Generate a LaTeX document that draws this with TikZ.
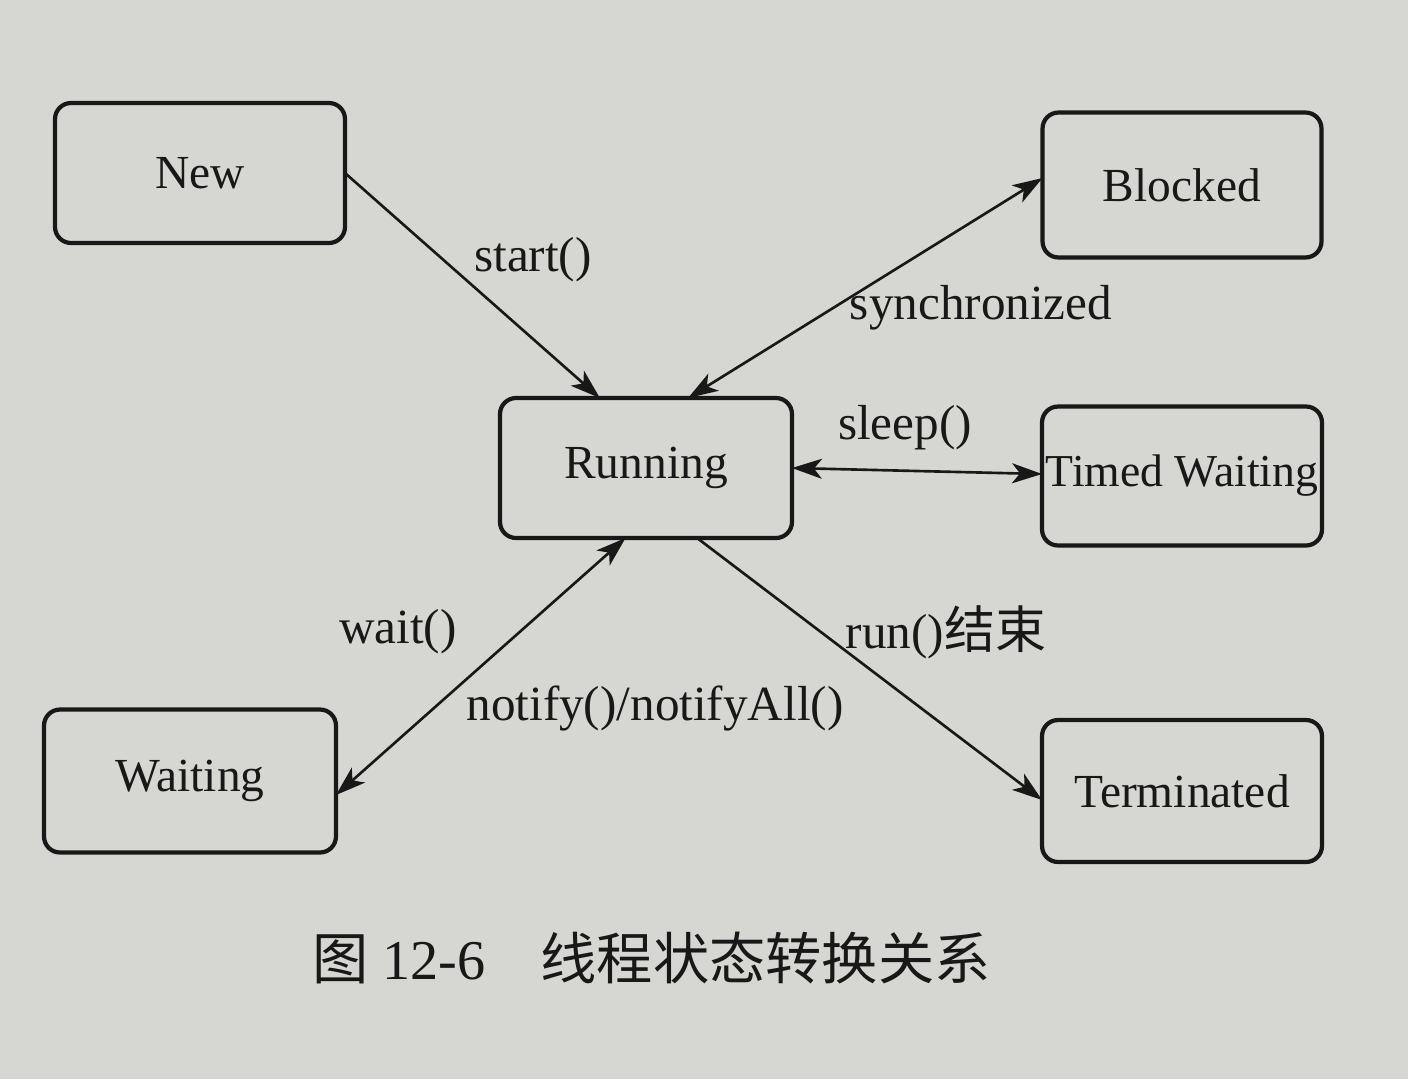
\documentclass[tikz,border=0pt]{standalone}
\usepackage{fontspec}
\setmainfont{Liberation Serif}
\newfontfamily\cjk{Noto Sans CJK SC}
\usetikzlibrary{arrows.meta,calc}
\definecolor{paper}{RGB}{214,214,210}
\definecolor{ink}{RGB}{24,24,24}
\tikzset{
  statebox/.style={draw=ink, line width=2.4pt, rounded corners=0.32cm, fill=paper,
    minimum width=5.8cm, minimum height=2.8cm, outer sep=0pt, text=ink,
    font=\fontsize{27}{32}\selectfont},
  conn/.style={draw=ink, line width=1.5pt, -{Stealth[length=0.6cm,width=0.4cm,inset=0.16cm]}},
  biconn/.style={draw=ink, line width=1.5pt, {Stealth[length=0.6cm,width=0.4cm,inset=0.16cm]}-{Stealth[length=0.6cm,width=0.4cm,inset=0.16cm]}},
  lbl/.style={text=ink, inner sep=0pt, font=\fontsize{28}{32}\selectfont}
}
\begin{document}
\begin{tikzpicture}[x=0.02cm,y=-0.02cm]
\fill[paper] (0,0) rectangle (1408,1079);
\useasboundingbox (0,0) rectangle (1408,1079);

\node[statebox] (new) at (200,173) {New};
\node[statebox, minimum width=5.58cm, minimum height=2.9cm] (blocked) at (1182,185) {Blocked};
\node[statebox, minimum width=5.84cm] (running) at (646,468) {Running};
\node[statebox, minimum width=5.6cm, minimum height=2.78cm, inner xsep=0pt,
  font=\fontsize{26}{32}\selectfont] (timed) at (1182,476) {Timed Waiting};
\node[statebox, minimum width=5.84cm, minimum height=2.86cm] (waiting) at (190,781) {Waiting};
\node[statebox, minimum width=5.6cm, minimum height=2.84cm] (term) at (1182,791) {Terminated};

\draw[conn] (new.east) -- ($(running.north west)!0.342!(running.north east)$);
\draw[biconn] ([yshift=0.14cm]blocked.west) -- ($(running.north west)!0.644!(running.north east)$);
\draw[biconn] (running.east) -- ([yshift=0.04cm]timed.west);
\draw[biconn] ($(running.south west)!0.43!(running.south east)$) -- ([yshift=-0.28cm]waiting.east);
\draw[conn] ($(running.south west)!0.675!(running.south east)$) -- ([yshift=-0.18cm]term.west);

\node[lbl] (lstart) at (533,260) {start()};
\node[lbl] (lsync) at (981,308) {synchronized};
\node[lbl] (lsleep) at (905,428) {sleep()};
\node[lbl] (lwait) at (398,632) {wait()};
\node[lbl] (lnotify) at (655,708) {notify()/notifyAll()};
\node[lbl] (lrun) at (946,632) {run(){\cjk\fontsize{29}{32}\selectfont 结束}};

\node[text=ink, anchor=west, inner sep=0pt, font=\fontsize{32}{36}\selectfont] (caption) at (312,958)
  {{\cjk\fontsize{32}{36}\selectfont 图} 12-6\hspace{1.1cm}{\cjk\fontsize{32}{36}\selectfont 线程状态转换关系}};
\end{tikzpicture}
\end{document}
